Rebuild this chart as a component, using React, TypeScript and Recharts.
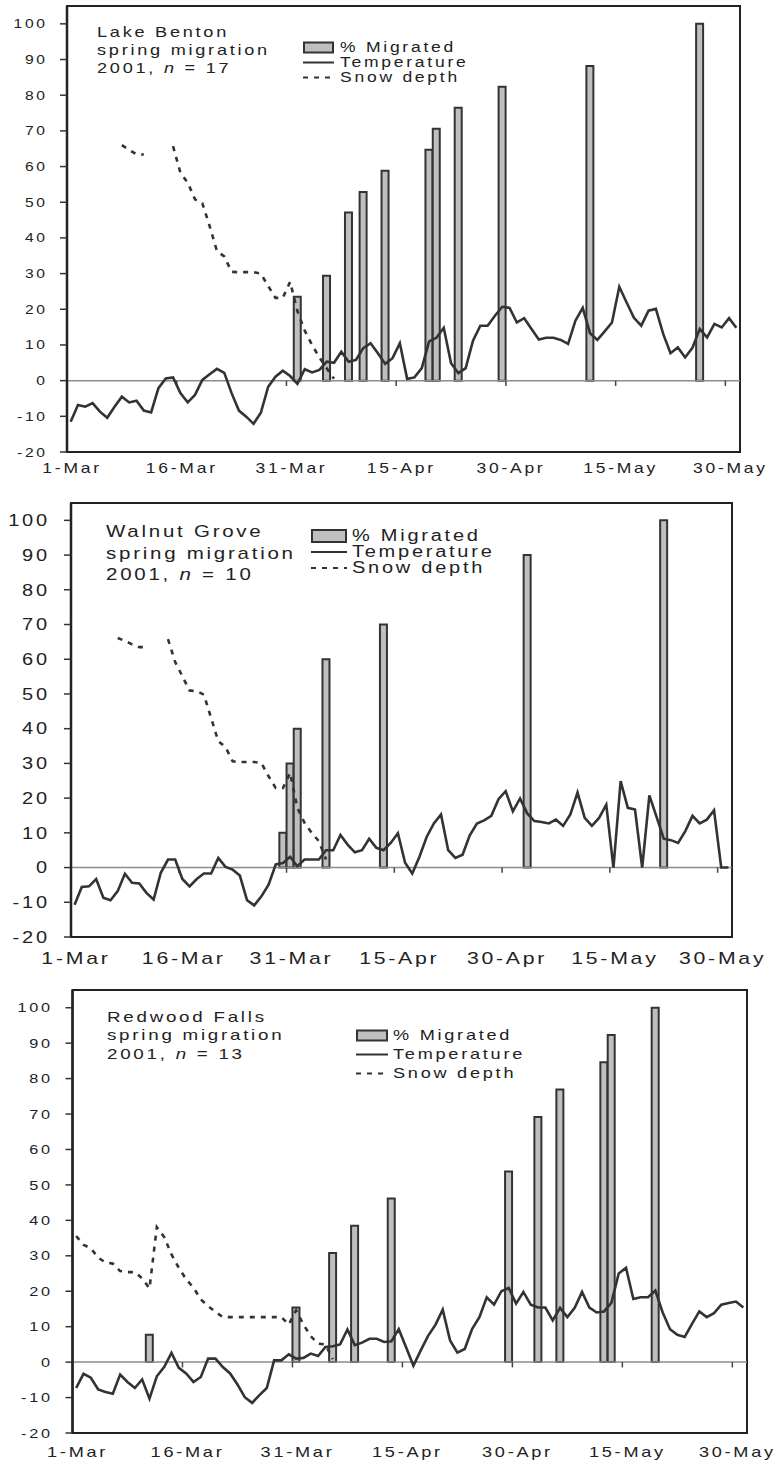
import React from 'react';
import {
  ComposedChart,
  Bar,
  Line,
  XAxis,
  YAxis,
  ReferenceLine,
  ReferenceArea,
  Legend,
} from 'recharts';

const FONT = "'Liberation Sans', Arial, Helvetica, sans-serif";
const INK = '#222';
const LINE = '#333';
const BAR_FILL = '#bfbfbf';
const STRETCH = 1.25;
const SPACING = 2.2;
const SNOW_DASH = '5 6';

const MONTHS: [string, number][] = [['Mar', 31], ['Apr', 30], ['May', 31]];
const days = MONTHS.flatMap(([m, n]) => Array.from({ length: n }, (_, i) => `${i + 1}-${m}`));
const axisMarks = ['16-Mar', '31-Mar', '15-Apr', '30-Apr', '15-May', '30-May'];
const yTicks = [-20, -10, 0, 10, 20, 30, 40, 50, 60, 70, 80, 90, 100];

// Lake Benton
const bentonTemp = [
  -11.5, -6.8, -7.3, -6.3, -8.7, -10.4, -7.3, -4.5, -6.1, -5.6,
  -8.4, -8.9, -2.1, 0.6, 0.9, -3.5, -6.1, -4.0, 0.2, 1.8,
  3.3, 2.2, -3.5, -8.4, -10.1, -12.1, -9.0, -1.7, 1.1, 2.8,
  1.3, -0.9, 3.2, 2.3, 3.0, 5.3, 5.0, 8.1, 5.3, 5.8,
  9.1, 10.5, 7.7, 4.7, 6.3, 10.5, 0.5, 0.9, 3.5, 11.0,
  12.0, 14.8, 4.9, 2.1, 3.5, 11.2, 15.4, 15.4, 18.2, 20.7,
  20.4, 16.3, 17.5, 14.5, 11.5, 12.0, 12.0, 11.4, 10.3, 16.8,
  20.4, 13.3, 11.4, 13.8, 16.3, 26.3, 21.9, 17.6, 15.4, 19.6,
  20.1, 13.1, 7.7, 9.3, 6.5, 9.2, 14.5, 12.1, 15.9, 14.9,
  17.5, 14.8,
];
const bentonSnow = [
  null, null, null, null, null, null, null, 66, 64.7, 63.4,
  63.4, null, null, null, 65.7, 58.3, 55.5, 50.8, 49.7, 43.3,
  36.3, 34.8, 30.5, 30.4, 30.4, 30.4, 30.0, 26.5, 23.2, 23.2,
  27.7, 19.5, 14.0, 10.0, 6.5, 3.5, 0.5,
];
const bentonMigDays = ['1-Apr', '5-Apr', '8-Apr', '10-Apr', '13-Apr', '19-Apr', '20-Apr', '23-Apr', '29-Apr', '11-May', '26-May'];
const bentonMigrated = [23.5, 29.4, 47.1, 52.9, 58.8, 64.7, 70.6, 76.5, 82.4, 88.2, 100];

// Walnut Grove
const walnutTemp = [
  -10.7, -5.6, -5.4, -3.3, -8.7, -9.4, -6.8, -1.8, -4.4, -4.6,
  -7.3, -9.2, -1.5, 2.3, 2.3, -3.3, -5.4, -3.3, -1.7, -1.7,
  2.8, 0.2, -0.6, -2.3, -9.4, -10.9, -8.3, -4.9, 0.9, 1.3,
  3.1, 0.4, 2.3, 2.3, 2.3, 5.0, 5.0, 9.4, 6.6, 4.4,
  5.0, 8.3, 5.7, 5.0, 7.1, 9.9, 1.4, -1.7, 3.1, 8.8,
  12.7, 15.3, 5.0, 2.8, 3.7, 9.3, 12.7, 13.6, 14.9, 19.7,
  22.0, 16.2, 19.9, 15.6, 13.4, 13.1, 12.7, 13.8, 12.0, 15.3,
  21.6, 14.3, 12.0, 14.3, 18.1, 0, 24.9, 17.2, 16.7, 0,
  20.8, 14.6, 8.3, 7.9, 7.1, 10.5, 14.9, 12.7, 13.8, 16.5,
  0, 0,
];
const walnutSnow = [
  null, null, null, null, null, null, 66.1, 65.3, 64.3, 63.5,
  63.5, null, null, 65.8, 59.2, 55.1, 51.0, 50.8, 49.8, 43.1,
  36.4, 34.7, 30.6, 30.4, 30.4, 30.4, 30.1, 26.3, 22.9, 22.9,
  27.3, 17.2, 12.9, 10.0, 7.6, 2.3,
];
const walnutMigDays = ['30-Mar', '31-Mar', '1-Apr', '5-Apr', '13-Apr', '3-May', '22-May'];
const walnutMigrated = [10, 30, 40, 60, 70, 90, 100];

// Redwood Falls
const redwoodTemp = [
  -7.3, -3.3, -4.4, -7.7, -8.4, -8.9, -3.5, -5.6, -7.3, -4.9,
  -10.3, -4.0, -1.4, 2.6, -1.6, -3.2, -5.6, -4.2, 1.0, 1.0,
  -1.4, -3.2, -6.3, -9.9, -11.5, -9.3, -7.3, 0.5, 0.5, 2.2,
  1.0, 1.2, 2.4, 1.7, 4.3, 4.5, 5.0, 9.2, 4.8, 5.5,
  6.6, 6.6, 5.7, 5.9, 9.3, 4.2, -1.0, 3.3, 7.4, 10.5,
  14.8, 6.1, 2.7, 3.7, 9.3, 12.7, 18.3, 16.2, 20.0, 20.9,
  16.5, 19.8, 16.2, 15.4, 15.4, 11.8, 15.3, 12.7, 15.3, 19.8,
  15.4, 14.0, 14.3, 16.7, 25.0, 26.6, 17.8, 18.3, 18.3, 20.2,
  14.0, 9.3, 7.7, 7.1, 10.8, 14.3, 12.7, 13.8, 16.2, 16.7,
  17.1, 15.4,
];
const redwoodSnow = [
  35.6, 33.1, 32.1, 29.5, 28.1, 27.8, 25.7, 25.4, 25.4, 23.6,
  20.8, 38.1, 35.3, 30.4, 26.6, 23.4, 21.0, 17.7, 15.8, 14.2,
  12.7, 12.7, 12.7, 12.7, 12.7, 12.7, 12.7, 12.7, 12.7, 10.6,
  14.6, 10.6, 7.3, 5.2, 5.0, 0.8,
];
const redwoodMigDays = ['11-Mar', '31-Mar', '5-Apr', '8-Apr', '13-Apr', '29-Apr', '3-May', '6-May', '12-May', '13-May', '19-May'];
const redwoodMigrated = [7.7, 15.4, 30.8, 38.5, 46.2, 53.8, 69.2, 76.9, 84.6, 92.3, 100];

function buildRows(temp: number[], snow: (number | null)[], migDays: string[], migrated: number[]) {
  return days.map((date, i) => {
    const k = migDays.indexOf(date);
    return {
      date,
      temp: temp[i],
      snow: snow[i] ?? null,
      migrated: k >= 0 ? migrated[k] : null,
    };
  });
}

const panels = [
  {
    site: 'Lake Benton', n: 17,
    rows: buildRows(bentonTemp, bentonSnow, bentonMigDays, bentonMigrated),
    top: 0, height: 480,
    margin: { top: 6, right: 35, left: 7, bottom: 0 },
    xHeight: 28, xFont: 14, xGap: 11, yFont: 12.5, yGap: 15,
    legend: { left: 303, top: 39.5, row: 15, iconW: 31, iconH: 10, font: 14, gap: 6 },
    title: { left: 97, top: 23, lineH: 18, font: 14.5 },
  },
  {
    site: 'Walnut Grove', n: 10,
    rows: buildRows(walnutTemp, walnutSnow, walnutMigDays, walnutMigrated),
    top: 480, height: 490,
    margin: { top: 23, right: 43, left: 11, bottom: 0 },
    xHeight: 33, xFont: 17, xGap: 15, yFont: 16, yGap: 17,
    legend: { left: 311, top: 48, row: 16, iconW: 36, iconH: 12, font: 16, gap: 5 },
    title: { left: 106, top: 41, lineH: 21.5, font: 16.4 },
  },
  {
    site: 'Redwood Falls', n: 13,
    rows: buildRows(redwoodTemp, redwoodSnow, redwoodMigDays, redwoodMigrated),
    top: 970, height: 490,
    margin: { top: 20, right: 28, left: 12.5, bottom: 0 },
    xHeight: 27, xFont: 14.5, xGap: 13.5, yFont: 13, yGap: 15.5,
    legend: { left: 356, top: 55.5, row: 19, iconW: 32, iconH: 10, font: 14.5, gap: 5 },
    title: { left: 107, top: 37.6, lineH: 18.5, font: 15 },
  },
];

function XTick({ x, y, payload, size }: any) {
  return (
    <g transform={`translate(${x},${y})`}>
      <text
        transform={`scale(${STRETCH},1)`}
        x={SPACING / 2}
        dy="0.71em"
        textAnchor="middle"
        fontFamily={FONT}
        fontSize={size}
        fill={INK}
        letterSpacing={SPACING}
      >
        {payload.value}
      </text>
    </g>
  );
}

function YTick({ x, y, payload, size }: any) {
  return (
    <g transform={`translate(${x},${y})`}>
      <text
        transform={`scale(${STRETCH},1)`}
        x={SPACING}
        dy="0.36em"
        textAnchor="end"
        fontFamily={FONT}
        fontSize={size}
        fill={INK}
        letterSpacing={SPACING}
      >
        {payload.value}
      </text>
    </g>
  );
}

const ORDER = ['migrated', 'temp', 'snow'];

function LegendBox({ payload, cfg }: any) {
  const items = [...(payload ?? [])].sort(
    (a: any, b: any) => ORDER.indexOf(a.dataKey) - ORDER.indexOf(b.dataKey),
  );
  const { row, iconW, iconH, font, gap } = cfg;
  return (
    <div style={{ fontFamily: FONT, fontSize: font, color: INK, lineHeight: `${row}px` }}>
      {items.map((it: any) => (
        <div key={it.dataKey} style={{ display: 'flex', alignItems: 'center', height: row, whiteSpace: 'nowrap' }}>
          <svg width={iconW} height={row} style={{ display: 'block', flex: 'none' }}>
            {it.dataKey === 'migrated' ? (
              <rect x={1} y={(row - iconH) / 2} width={iconW - 2} height={iconH} fill={BAR_FILL} stroke={LINE} strokeWidth={2} />
            ) : (
              <line
                x1={0}
                x2={iconW}
                y1={row / 2}
                y2={row / 2}
                stroke={LINE}
                strokeWidth={2}
                strokeDasharray={it.dataKey === 'snow' ? SNOW_DASH : undefined}
              />
            )}
          </svg>
          <span
            style={{
              marginLeft: gap,
              letterSpacing: SPACING,
              display: 'inline-block',
              transform: `scaleX(${STRETCH})`,
              transformOrigin: 'left center',
            }}
          >
            {it.value}
          </span>
        </div>
      ))}
    </div>
  );
}

function Panel({ p }: any) {
  return (
    <div style={{ position: 'absolute', left: 0, top: p.top, width: 775, height: p.height }}>
      <ComposedChart width={775} height={p.height} data={p.rows} margin={p.margin}>
        <XAxis
          dataKey="date"
          interval={14}
          tickLine={false}
          axisLine={false}
          tickSize={0}
          tickMargin={p.xGap}
          height={p.xHeight}
          tick={(t: any) => <XTick {...t} size={p.xFont} />}
        />
        <YAxis
          type="number"
          domain={[-20, 105]}
          ticks={yTicks}
          interval={0}
          width={60}
          tickSize={7}
          tickMargin={p.yGap}
          axisLine={{ stroke: INK, strokeWidth: 2.5 }}
          tickLine={{ stroke: LINE, strokeWidth: 1.5 }}
          tick={(t: any) => <YTick {...t} size={p.yFont} />}
        />
        <ReferenceArea y1={-20} y2={105} fill="none" stroke={INK} strokeWidth={2} ifOverflow="visible" />
        <ReferenceLine y={0} stroke="#8c8c8c" strokeWidth={1.5} />
        {axisMarks.map((d) => (
          <ReferenceLine
            key={d}
            segment={[{ x: d, y: 0 }, { x: d, y: -1.5 }]}
            position="start"
            stroke="#444"
            strokeWidth={1.5}
          />
        ))}
        <Bar
          dataKey="migrated"
          name="% Migrated"
          barSize={7}
          fill={BAR_FILL}
          stroke={LINE}
          strokeWidth={2}
          isAnimationActive={false}
        />
        <Line
          dataKey="temp"
          name="Temperature"
          type="linear"
          stroke={LINE}
          strokeWidth={2.6}
          dot={false}
          activeDot={false}
          isAnimationActive={false}
        />
        <Line
          dataKey="snow"
          name="Snow depth"
          type="linear"
          stroke={LINE}
          strokeWidth={2.6}
          strokeDasharray={SNOW_DASH}
          dot={false}
          activeDot={false}
          isAnimationActive={false}
        />
        <Legend
          layout="vertical"
          align="center"
          verticalAlign="middle"
          wrapperStyle={{ left: p.legend.left, top: p.legend.top, width: 'auto' }}
          content={(props: any) => <LegendBox payload={props.payload} cfg={p.legend} />}
        />
      </ComposedChart>
      <div
        style={{
          position: 'absolute',
          left: p.title.left,
          top: p.title.top,
          fontFamily: FONT,
          fontSize: p.title.font,
          lineHeight: `${p.title.lineH}px`,
          color: INK,
          letterSpacing: SPACING,
          transform: `scaleX(${STRETCH})`,
          transformOrigin: 'left top',
          whiteSpace: 'nowrap',
          pointerEvents: 'none',
        }}
      >
        <div>{p.site}</div>
        <div>spring migration</div>
        <div>
          2001, <i>n</i> = {p.n}
        </div>
      </div>
    </div>
  );
}

export default function App() {
  return (
    <div style={{ position: 'absolute', left: 0, top: 0, width: 775, height: 1460, background: '#fff' }}>
      {panels.map((p) => (
        <Panel key={p.site} p={p} />
      ))}
    </div>
  );
}
